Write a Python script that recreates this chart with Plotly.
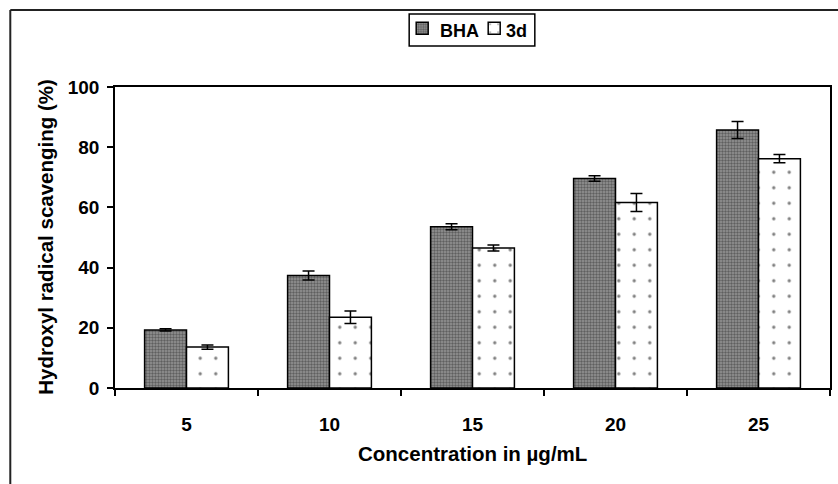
import plotly.graph_objects as go

categories = ["5", "10", "15", "20", "25"]
bha_values = [19.3, 37.4, 53.6, 69.6, 85.7]
bha_errors = [0.4, 1.5, 1.0, 0.9, 2.8]
d3_values = [13.6, 23.5, 46.5, 61.6, 76.2]
d3_errors = [0.7, 2.1, 1.0, 3.0, 1.4]
y_ticks = [0, 20, 40, 60, 80, 100]
series_names = ["BHA", "3d"]

FONT = "Liberation Sans, Arial, sans-serif"
W, H = 838, 484
L, R, T, B = 115, 6, 87, 96
pw, ph = W - L - R, H - T - B

def px2x(px):
    return (px - L) / pw

def py2y(py):
    return (H - B - py) / ph

fig = go.Figure()
fig.add_trace(go.Bar(
    x=categories, y=bha_values, name="",
    hovertemplate=series_names[0] + ": %{y}<extra></extra>",
    marker=dict(color="#959595", line=dict(color="black", width=1.5),
                pattern=dict(shape=".", size=3, solidity=0.5, fgcolor="#2a2a2a", fillmode="overlay")),
    error_y=dict(type="data", array=bha_errors, visible=True, color="black", thickness=1.5, width=6),
))
fig.add_trace(go.Bar(
    x=categories, y=d3_values, name="",
    hovertemplate=series_names[1] + ": %{y}<extra></extra>",
    marker=dict(color="white", line=dict(color="black", width=1.5),
                pattern=dict(shape=".", size=15.5, solidity=0.035, fgcolor="black", fillmode="overlay")),
    error_y=dict(type="data", array=d3_errors, visible=True, color="black", thickness=1.5, width=6),
))

legend_text_x = [440, 506]
annotations = [
    dict(text="Hydroxyl radical scavenging (%)", xref="paper", yref="paper",
         x=px2x(45), y=py2y(236.5), textangle=-90, showarrow=False,
         xanchor="center", yanchor="middle",
         font=dict(family=FONT, size=20.5, color="black", weight="bold")),
    dict(text="Concentration in µg/mL", xref="paper", yref="paper",
         x=px2x(473.5), y=py2y(453), showarrow=False,
         xanchor="center", yanchor="middle",
         font=dict(family=FONT, size=20.5, color="black", weight="bold")),
]
for nm, tx in zip(series_names, legend_text_x):
    annotations.append(dict(text=nm, xref="paper", yref="paper", x=px2x(tx - 1), y=py2y(30.5),
                            showarrow=False, xanchor="left", yanchor="middle",
                            font=dict(family=FONT, size=18, color="black", weight="bold")))

fig.update_layout(
    width=W, height=H,
    margin=dict(l=L, r=R, t=T, b=B, pad=0),
    paper_bgcolor="white", plot_bgcolor="white",
    barmode="group", bargap=0.414, bargroupgap=0,
    font=dict(family=FONT, color="black"),
    showlegend=True,
    legend=dict(orientation="h", x=px2x(403), y=py2y(10), xanchor="left", yanchor="top",
                borderwidth=0, bgcolor="rgba(0,0,0,0)",
                font=dict(family=FONT, size=18, color="black", weight="bold"),
                itemwidth=30, tracegroupgap=0, entrywidthmode="pixels", entrywidth=27),
    xaxis=dict(type="category", categoryorder="array", categoryarray=categories,
               showline=True, linecolor="black", linewidth=1.5, mirror=True,
               ticks="outside", tickson="boundaries", ticklen=6, tickwidth=1.5, tickcolor="black",
               tickfont=dict(family=FONT, size=19, color="black", weight="bold"),
               ticklabelstandoff=18, showgrid=False, zeroline=False),
    yaxis=dict(range=[0, 100], tickvals=y_ticks,
               showline=True, linecolor="black", linewidth=1.5, mirror=True,
               ticks="outside", ticklen=6, tickwidth=1.5, tickcolor="black",
               tickfont=dict(family=FONT, size=19, color="black", weight="bold"),
               ticklabelstandoff=4, showgrid=False, zeroline=False),
    annotations=annotations,
    shapes=[
        dict(type="line", xref="paper", yref="paper", x0=px2x(10), y0=py2y(10), x1=px2x(10), y1=py2y(520),
             line=dict(color="#222222", width=2)),
        dict(type="line", xref="paper", yref="paper", x0=px2x(10), y0=py2y(10), x1=px2x(870), y1=py2y(10),
             line=dict(color="#222222", width=2)),
        dict(type="rect", xref="paper", yref="paper", x0=px2x(410), y0=py2y(14), x1=px2x(536), y1=py2y(46),
             line=dict(color="black", width=1.5), fillcolor="rgba(0,0,0,0)"),
    ],
)

fig.write_html("out.html")
